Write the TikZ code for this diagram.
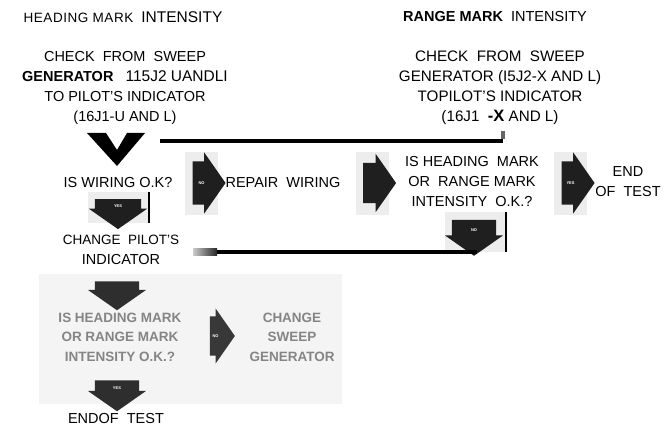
\documentclass[tikz,border=0pt]{standalone}
\usepackage{fontspec}
\setmainfont{Liberation Sans}
\usepackage{xcolor}
\definecolor{scanInk}{gray}{0.12}
\definecolor{scanPatch}{gray}{0.93}
\definecolor{fadedInk}{gray}{0.52}
\definecolor{fadedPanel}{gray}{0.955}
\usetikzlibrary{shapes.arrows}

\begin{document}
\begin{tikzpicture}[x=1pt,y=-1pt,
  every node/.style={font=\fontsize{14.5}{20}\selectfont, inner sep=0pt, align=center},
  blockR/.style={single arrow, fill=scanInk, text=white, font=\fontsize{4}{4}\selectfont\bfseries,
    inner xsep=0pt, inner ysep=20pt, single arrow tip angle=110, single arrow head extend=9pt,
    minimum height=33},
  blockD/.style={blockR, shape border rotate=270, inner ysep=0pt, inner xsep=18pt},
  heavy/.style={line width=3.2pt, black},
  faded/.style={text=fadedInk, font=\fontsize{13.5}{19.5}\selectfont\bfseries}]
  \useasboundingbox (0,0) rectangle (668,427);
  % ------- headings -------
  \node (hhead) at (123,17) {{\fontsize{13.5}{16}\addfontfeature{LetterSpace=4}\selectfont HEADING MARK} \ {\fontsize{15.5}{16}\selectfont INTENSITY}};
  \node (rhead) at (495,17) {\textbf{RANGE MARK} \ INTENSITY};
  \node (lcheck) at (125,88) {CHECK \ FROM \ SWEEP\\ \textbf{GENERATOR} \ \ {\fontsize{15.5}{20}\selectfont 115J2 UANDLI}\\ TO PILOT'S INDICATOR\\ (16J1-U AND L)};
  \node[font=\fontsize{15.2}{20}\selectfont] (rcheck) at (500,88) {CHECK \ FROM \ SWEEP\\ GENERATOR (I5J2-X AND L)\\ TOPILOT'S INDICATOR\\ (16J1 \ {\fontsize{16.5}{20}\selectfont\bfseries -X} AND L)};
  % big V under the left check
  \fill[black] (87,133) -- (106,133) -- (117,150) -- (127,133) -- (145,133) -- (117,166) -- cycle;
  \coordinate (vjoin) at (160,141);
  \coordinate (rtick) at (503,131);
  \draw[heavy] (vjoin) -- (vjoin -| rtick);
  \draw[line width=3.6pt, black!60] (rtick) -- ([yshift=2]rtick |- vjoin);
  % ------- second row -------
  \node (wiring) at (118,183) {IS WIRING O.K?};
  \fill[scanPatch] (185,152) rectangle (218,215);
  \node[blockR] (nowire) at (201.5,183) {NO};
  \node (repair) at (283,183) {REPAIR \ WIRING};
  \fill[scanPatch] (356,152) rectangle (389,215);
  \node[blockR] (torange) at (372.5,183) {};
  \node (rquest) at (472,182) {IS HEADING \ MARK\\ OR \ RANGE MARK\\ INTENSITY \ O.K.?};
  \fill[scanPatch] (554,152) rectangle (587,215);
  \node[blockR] (yesrange) at (570.5,183) {YES};
  \node (endtop) at (628,182) {END\\ OF \ TEST};
  % ------- way back to the pilot's indicator -------
  \fill[scanPatch] (445,212) rectangle (505,252);
  \node[blockD, minimum height=36, inner xsep=19pt, single arrow head extend=7pt] (norange) at (474,230) {NO};
  \coordinate (nobar) at (506,212);
  \draw[line width=2.6pt] (nobar) -- ++(0,40);
  \coordinate (backfrom) at (477,252);
  \coordinate (backto) at (217,252);
  \draw[heavy] (backfrom) -- (backto);
  \shade[left color=black!20, right color=black!85] (193,249) rectangle (backto |- 0,256);
  \fill[scanPatch] (88,192) rectangle (149,223);
  \node[blockD, minimum height=30, inner xsep=19pt, single arrow head extend=6pt] (yeswire) at (118,206) {YES};
  \coordinate (yesbar) at (149,192);
  \draw[line width=2.8pt] (yesbar) -- ++(0,31);
  \node (chpilot) at (121,250) {\fontsize{13.5}{21}\selectfont CHANGE \ PILOT'S\\ INDICATOR};
  % ------- faded lower part -------
  \fill[fadedPanel] (39,274) rectangle (342,404);
  \node[blockD, fill=black!82, minimum height=29, inner xsep=22pt, single arrow head extend=7pt] (intopanel) at (117,288) {};
  \node[faded] (lquest) at (120,337) {IS HEADING MARK\\ OR RANGE MARK\\ INTENSITY O.K.?};
  \node[blockR, fill=black!78, minimum height=25, inner ysep=18pt, single arrow head extend=8pt] (nosweep) at (215.5,336) {NO};
  \node[faded] (chsweep) at (292,337) {CHANGE\\ SWEEP\\ GENERATOR};
  \node[blockD, fill=black!82, minimum height=31, inner xsep=18pt, single arrow head extend=7pt] (yessweep) at (117,388) {YES};
  \node (endlow) at (116,419) {ENDOF \ TEST};
\end{tikzpicture}
\end{document}
